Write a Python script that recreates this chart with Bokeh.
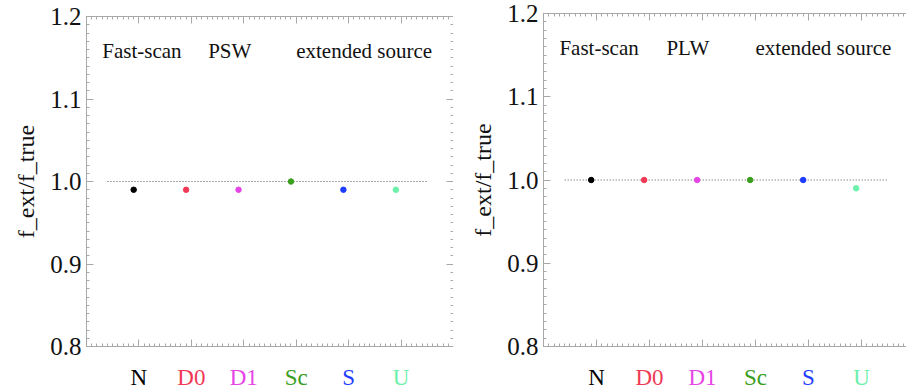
import numpy as np
from bokeh.plotting import figure
from bokeh.layouts import row, column
from bokeh.models import FixedTicker, LinearAxis, Range1d, PrintfTickFormatter
from bokeh.core.properties import value
from bokeh.embed import file_html
from bokeh.resources import INLINE

# ---- data ----
categories = ["N", "D0", "D1", "Sc", "S", "U"]
cat_colors = ["#000000", "#f03a55", "#e645e6", "#3a9e1e", "#1f3dff", "#6cf0aa"]
psw_ratio = [0.99, 0.99, 0.99, 1.00, 0.99, 0.99]
plw_ratio = [1.00, 1.00, 1.00, 1.00, 1.00, 0.99]
bands = ["PSW", "PLW"]
y_ticks = [0.8, 0.9, 1.0, 1.1, 1.2]
reference_level = 1.0
mode_label = "Fast-scan"
source_label = "extended source"

SERIF = "Liberation Serif"
AXIS_GREY = "#a8a8a8"
HEIGHT = 389
STRIP_H = 28
WIDTH = 453


def style_axis(ax, show_labels, line_color=AXIS_GREY):
    ax.axis_line_color = line_color
    ax.major_tick_line_color = line_color
    ax.minor_tick_line_color = line_color
    ax.major_tick_in = 7
    ax.major_tick_out = 0
    ax.minor_tick_in = 3
    ax.minor_tick_out = 0
    ax.major_label_text_font = SERIF
    if show_labels:
        ax.major_label_text_font_size = "25px"
        ax.major_label_text_color = "#111111"
        ax.major_label_standoff = 5
    else:
        ax.major_label_text_font_size = "0px"
        ax.major_label_standoff = 0


def make_panel(values, band, border_left, frame_top, x_end, right_axis):
    main_h = HEIGHT - STRIP_H
    frame_bottom = 346
    xr = Range1d(0, x_end)
    p = figure(width=WIDTH, height=main_h, output_backend="svg", toolbar_location=None,
               x_range=xr, y_range=Range1d(y_ticks[0], y_ticks[-1]),
               min_border_left=border_left, min_border_right=0,
               min_border_top=frame_top, min_border_bottom=main_h - frame_bottom,
               background_fill_color="white", border_fill_color="white")
    p.outline_line_color = None
    p.xgrid.visible = False
    p.ygrid.visible = False

    xt = FixedTicker(ticks=list(range(0, 8)), minor_ticks=list(np.round(np.arange(0, 7.01, 0.1), 2)))
    yt = FixedTicker(ticks=y_ticks, minor_ticks=list(np.round(np.arange(0.8, 1.2001, 0.01), 3)))

    p.xaxis.ticker = xt
    p.yaxis.ticker = yt
    style_axis(p.xaxis[0], False)
    style_axis(p.yaxis[0], True)
    p.yaxis.formatter = PrintfTickFormatter(format="%.1f")
    p.yaxis.axis_label = "f_ext/f_true"
    p.yaxis.axis_label_text_font = SERIF
    p.yaxis.axis_label_text_font_size = "24px"
    p.yaxis.axis_label_text_font_style = "normal"
    p.yaxis.axis_label_text_color = "#111111"
    p.yaxis.axis_label_standoff = 8

    top = LinearAxis(ticker=xt)
    style_axis(top, False)
    p.add_layout(top, "above")
    if right_axis:
        ra = LinearAxis(ticker=yt)
        style_axis(ra, False)
        p.add_layout(ra, "right")

    n = len(categories)
    pos = np.arange(1, n + 1)

    # reference line
    p.segment(x0=[0.4], x1=[6.5], y0=[reference_level], y1=[reference_level],
              line_color="#555555", line_width=1, line_dash="1 2")

    p.scatter(x=pos - 0.1, y=values, size=5.5, color=cat_colors, line_color=cat_colors)

    p.text(x=[0.3, 2.32, 4.0], y=[1.158, 1.158, 1.158], text=[mode_label, band, source_label],
           text_font=value(SERIF), text_font_size="21px", text_color="#111111",
           text_baseline="middle", text_align="left")

    # category labels strip below the frame, sharing the x range
    s = figure(width=WIDTH, height=STRIP_H, output_backend="svg", toolbar_location=None,
               x_range=xr, y_range=Range1d(0, 1),
               min_border_left=border_left, min_border_right=0,
               min_border_top=0, min_border_bottom=0,
               x_axis_location=None, y_axis_location=None,
               background_fill_color="white", border_fill_color="white")
    s.outline_line_color = None
    s.xgrid.visible = False
    s.ygrid.visible = False
    if right_axis:
        ra2 = LinearAxis(ticker=yt)
        style_axis(ra2, False, line_color=None)
        s.add_layout(ra2, "right")
    s.text(x=pos.astype(float), y=[0.42] * n, text=categories, text_color=cat_colors,
           text_font=value(SERIF), text_font_size="23px",
           text_align="center", text_baseline="middle")
    return column(p, s, spacing=0)


c1 = make_panel(psw_ratio, bands[0], 86, 16, 7.0, True)
c2 = make_panel(plw_ratio, bands[1], 90, 13, 6.85, False)

layout = row(c1, c2)
open("out.html", "w").write(file_html(layout, INLINE))
